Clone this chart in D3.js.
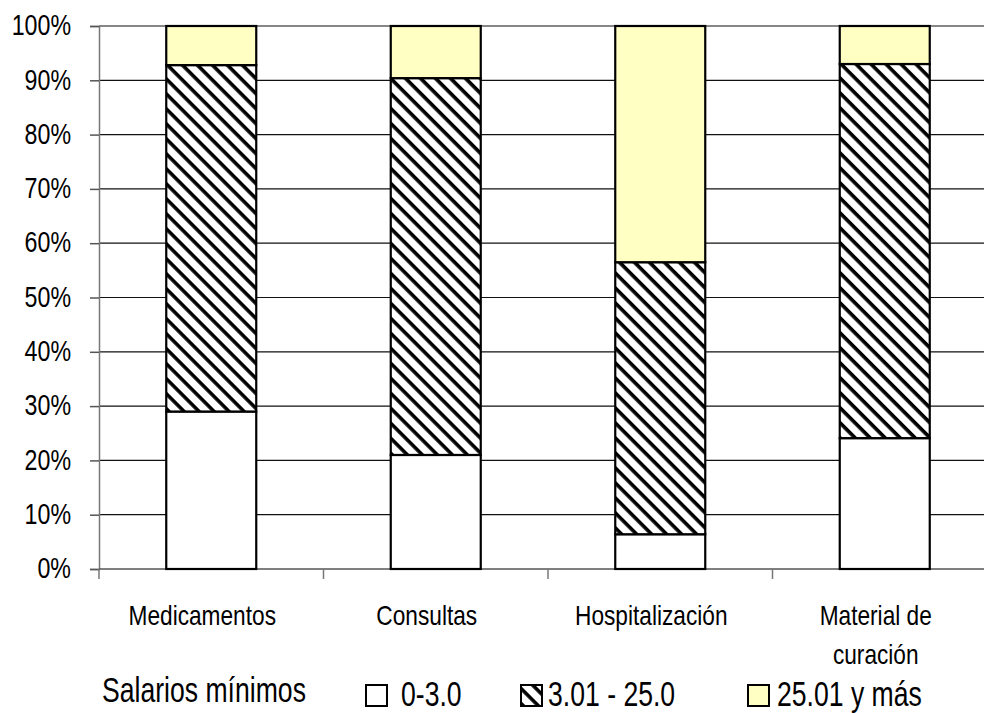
<!DOCTYPE html>
<html><head><meta charset="utf-8">
<script src="https://cdn.jsdelivr.net/npm/d3@7"></script>
<style>
html,body{margin:0;padding:0;background:#fff;}
text{font-family:"Liberation Sans Narrow","Arial Narrow","Liberation Sans",Arial,sans-serif;fill:#000;}
</style></head>
<body><svg id="c" width="984" height="713"></svg>
<script>
const categories = ["Medicamentos", "Consultas", "Hospitalización", "Material de|curación"];
const seriesNames = ["0-3.0", "3.01 - 25.0", "25.01 y más"];
const low = [29.0, 21.0, 6.4, 24.1];
const mid = [63.8, 69.4, 50.1, 68.9];
const high = [7.2, 9.6, 43.5, 7.0];
const yTicks = [0, 10, 20, 30, 40, 50, 60, 70, 80, 90, 100];
const legendTitle = "Salarios mínimos";

(function(){
const svg = d3.select("#c");
const pLeft = 99, pRight = 997, pTop = 26, pBottom = 569;

const defs = svg.append("defs");
const pat = defs.append("pattern").attr("id", "hatch").attr("patternUnits", "userSpaceOnUse")
  .attr("width", 10.6).attr("height", 10.6).attr("patternTransform", "rotate(45)");
pat.append("rect").attr("width", 10.6).attr("height", 10.6).attr("fill", "#fff");
pat.append("rect").attr("x", 0).attr("y", 0).attr("width", 10.6).attr("height", 3.6).attr("fill", "#000");

const x = d3.scaleBand().domain(categories).range([pLeft, pRight]).paddingInner(0).paddingOuter(0);
const y = d3.scaleLinear().domain([0, 100]).range([pBottom, pTop]);

function narrowText(parent, tx, ty, txt, size, sx, anchor) {
  return parent.append("text")
    .attr("transform", `translate(${tx},${ty}) scale(${sx},1)`)
    .attr("text-anchor", anchor || "start")
    .attr("font-size", size).text(txt);
}

// gridlines
svg.append("g").selectAll("line").data(yTicks.filter(d => d > 0)).join("line")
  .attr("x1", pLeft).attr("x2", 984).attr("y1", d => y(d)).attr("y2", d => y(d))
  .attr("stroke", "#111").attr("stroke-width", 1.2);

// y axis
const ya = svg.append("g").attr("transform", `translate(${pLeft},0)`)
  .call(d3.axisLeft(y).tickValues(yTicks).tickFormat(d => d + "%").tickSize(9).tickPadding(26));
ya.select(".domain").attr("stroke", "#777").attr("stroke-width", 1.5);
ya.selectAll(".tick line").attr("stroke", "#555").attr("stroke-width", 1.5);
ya.selectAll(".tick text").attr("font-size", 29).attr("dy", "0.3em")
  .attr("transform", "scale(0.8,1)")
  .style("font-family", '"Liberation Sans Narrow","Arial Narrow","Liberation Sans",Arial,sans-serif');

// x axis
const xa = svg.append("g").attr("transform", `translate(0,${pBottom})`);
xa.append("line").attr("x1", pLeft).attr("x2", 984).attr("stroke", "#555").attr("stroke-width", 1.5);
const bounds = categories.map(c => x(c)).concat([pRight]);
xa.selectAll("line.t").data(bounds).join("line").attr("class", "t")
  .attr("x1", d => d).attr("x2", d => d).attr("y1", 0).attr("y2", 10)
  .attr("stroke", "#777").attr("stroke-width", 1.5);

// bars
const barW = 90;
const stackData = categories.map((c, i) => ({c, vals: [low[i], mid[i], high[i]]}));
const fills = ["#fff", "url(#hatch)", "#FFFFC4"];
const g = svg.append("g");
stackData.forEach(d => {
  let acc = 0;
  d.vals.forEach((v, k) => {
    g.append("rect")
      .attr("x", x(d.c) + x.bandwidth() / 2 - barW / 2)
      .attr("width", barW)
      .attr("y", y(acc + v))
      .attr("height", y(acc) - y(acc + v))
      .attr("fill", fills[k]).attr("stroke", "#000").attr("stroke-width", 2.2);
    acc += v;
  });
});

// category labels
categories.forEach(c => {
  const lines = c.split("|");
  lines.forEach((ln, j) => {
    narrowText(svg, x(c) + x.bandwidth() / 2 - 9, 625 + j * 39, ln, 28, 0.81, "middle");
  });
});

// legend
const ly = 706;
narrowText(svg, 102, 702, legendTitle, 35, 0.76);
const boxX = [366, 521, 748];
const textX = [401, 548, 777];
seriesNames.forEach((s, k) => {
  svg.append("rect").attr("x", boxX[k]).attr("y", 685).attr("width", 21).attr("height", 21)
    .attr("fill", fills[k]).attr("stroke", "#000").attr("stroke-width", 2);
  narrowText(svg, textX[k], ly, s, 35, 0.76);
});
})();
</script></body></html>
